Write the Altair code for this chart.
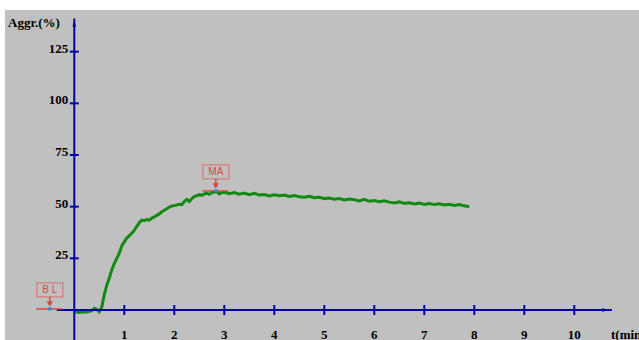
import altair as alt
import pandas as pd

# --- aggregation trace (time in minutes, aggregation in %) ---
time_min = [
    0.0, 0.05, 0.1, 0.15, 0.2, 0.25, 0.3, 0.35, 0.4, 0.45,
    0.5, 0.55, 0.6, 0.65, 0.7, 0.75, 0.8, 0.85, 0.9, 0.95,
    1.0, 1.05, 1.1, 1.15, 1.2, 1.25, 1.3, 1.35, 1.4, 1.45,
    1.5, 1.55, 1.6, 1.65, 1.7, 1.75, 1.8, 1.85, 1.9, 1.95,
    2.0, 2.05, 2.1, 2.15, 2.2, 2.25, 2.3, 2.35, 2.4, 2.45,
    2.5, 2.55, 2.6, 2.65, 2.7, 2.75, 2.8, 2.85, 2.9, 2.95,
    3.0, 3.1, 3.2, 3.3, 3.4, 3.5, 3.6, 3.7, 3.8, 3.9,
    4.0, 4.1, 4.2, 4.3, 4.4, 4.5, 4.6, 4.7, 4.8, 4.9,
    5.0, 5.1, 5.2, 5.3, 5.4, 5.5, 5.6, 5.7, 5.8, 5.9,
    6.0, 6.1, 6.2, 6.3, 6.4, 6.5, 6.6, 6.7, 6.8, 6.9,
    7.0, 7.1, 7.2, 7.3, 7.4, 7.5, 7.6, 7.7, 7.8, 7.9,
]
aggregation = [
    -0.5, -1.0, -1.2, -1.0, -0.8, -1.0, -0.6, -0.3, 0.8, 0.2,
    -0.8, 1.5, 7.5, 12.0, 15.5, 19.5, 22.5, 25.0, 27.5, 31.0,
    33.0, 34.8, 36.0, 37.2, 38.5, 40.5, 42.3, 43.5, 43.2, 43.8,
    43.5, 44.5, 45.0, 45.8, 46.5, 47.5, 48.3, 49.0, 49.8, 50.3,
    50.5, 50.8, 51.2, 51.0, 52.5, 53.5, 52.5, 53.8, 55.0, 55.3,
    55.8, 55.5, 56.2, 56.5, 56.0, 56.8, 57.0, 57.3, 56.2, 56.8,
    57.0, 56.3, 56.8, 56.0, 56.6, 55.8, 56.5, 55.6, 55.9, 55.2,
    55.8, 55.3, 55.6, 54.9, 55.4, 54.8, 54.6, 55.0, 54.3, 54.6,
    53.9, 54.2, 53.6, 53.9, 53.2, 53.7, 53.4, 52.8, 53.5, 52.6,
    53.0, 52.4, 52.8, 52.2, 51.8, 52.3, 51.6, 51.9, 51.3, 51.7,
    51.1, 51.5, 51.0, 51.4, 50.8, 51.2, 50.6, 51.0, 50.4, 50.0,
]

# --- axis ticks ---
x_ticks = [1, 2, 3, 4, 5, 6, 7, 8, 9, 10]
y_ticks = [25, 50, 75, 100, 125]

# --- markers: baseline (BL) and maximum aggregation (MA) ---
marker_names = ["B L", "MA"]
marker_time = [-0.49, 2.83]
marker_value = [0.5, 57.6]

# --- styling ---
W, H = 639, 340
X_DOMAIN = [-1.486, 11.294]
Y_DOMAIN = [-14.52, 150.0]
AXIS_BLUE = "#0000a8"
TRACE_GREEN = "#128a12"
MARK_RED = "#d04848"
BOX_RED = "#d67a7a"
PANEL_GREY = "#c0c0c0"
SERIF = "Liberation Serif"

xs = alt.Scale(domain=X_DOMAIN, nice=False, zero=False)
ys = alt.Scale(domain=Y_DOMAIN, nice=False, zero=False)

one = pd.DataFrame({"k": [0]})
trace = pd.DataFrame({"t": time_min, "v": aggregation})
xt = pd.DataFrame({"t": x_ticks, "v": [0] * len(x_ticks), "lab": [str(x) for x in x_ticks]})
yt = pd.DataFrame({"t": [0] * len(y_ticks), "v": y_ticks, "lab": [str(y) for y in y_ticks]})
marks = pd.DataFrame({"name": marker_names, "t": marker_time, "v": marker_value})

X = lambda f="t": alt.X(f"{f}:Q", scale=xs, axis=None)
Y = lambda f="v": alt.Y(f"{f}:Q", scale=ys, axis=None)

panel = alt.Chart(one).mark_rect(color=PANEL_GREY).encode(
    x=alt.value(5), x2=alt.value(W), y=alt.value(10), y2=alt.value(H)
)

# axes drawn as crossing lines with arrowheads
y_axis = alt.Chart(pd.DataFrame({"t": [0], "v0": [Y_DOMAIN[0]], "v1": [141.0]})).mark_rule(
    color=AXIS_BLUE, strokeWidth=2
).encode(x=X(), y=Y("v0"), y2="v1:Q")
x_axis = alt.Chart(pd.DataFrame({"t0": [-0.35], "t1": [10.75], "v": [0]})).mark_rule(
    color=AXIS_BLUE, strokeWidth=2
).encode(x=X("t0"), x2="t1:Q", y=Y())

y_head = alt.Chart(pd.DataFrame({"t": [0], "v": [138.6]})).mark_point(
    shape="M0,-0.5L0.28,0.5L-0.28,0.5Z", size=169, filled=True, opacity=1, color=AXIS_BLUE
).encode(x=X(), y=Y())
x_head = alt.Chart(pd.DataFrame({"t": [10.64], "v": [0]})).mark_point(
    shape="M0.5,0L-0.5,-0.2L-0.5,0.2Z", size=289, filled=True, opacity=1, color=AXIS_BLUE
).encode(x=X(), y=Y())

x_tick_marks = alt.Chart(xt).mark_tick(
    orient="vertical", size=10, thickness=2, color=AXIS_BLUE, opacity=1
).encode(x=X(), y=Y())
y_tick_marks = alt.Chart(yt).mark_tick(
    orient="horizontal", size=9, thickness=2, color=AXIS_BLUE, opacity=1
).encode(x=X(), y=Y())

x_labels = alt.Chart(xt).mark_text(
    font=SERIF, fontSize=13, fontWeight="bold", color="black",
    align="center", baseline="alphabetic", dy=29
).encode(x=X(), y=Y(), text="lab:N")
y_labels = alt.Chart(yt).mark_text(
    font=SERIF, fontSize=13, fontWeight="bold", color="black",
    align="right", baseline="alphabetic", dx=-6, dy=1
).encode(x=X(), y=Y(), text="lab:N")

y_title = alt.Chart(one).mark_text(
    text="Aggr.(%)", font=SERIF, fontSize=13, fontWeight="bold", color="black",
    align="left", baseline="alphabetic"
).encode(x=alt.value(8), y=alt.value(27))
x_title = alt.Chart(one).mark_text(
    text="t(min)", font=SERIF, fontSize=13, fontWeight="bold", color="black",
    align="left", baseline="alphabetic"
).encode(x=alt.value(611), y=alt.value(339))

curve = alt.Chart(trace).mark_line(color=TRACE_GREEN, strokeWidth=3).encode(x=X(), y=Y())

# marker boxes, arrows and base lines, placed relative to each marked point
mk = alt.Chart(marks).transform_calculate(
    bx0="datum.t - 0.26", bx1="datum.t + 0.26",
    by0="datum.v + 5.8", by1="datum.v + 12.6", ty="datum.v + 9.2",
    ay="datum.v + 2.4", lx0="datum.t - 0.27", lx1="datum.t + 0.25",
)
box = mk.mark_rect(fill=None, stroke=BOX_RED, strokeWidth=1.2).encode(
    x=X("bx0"), x2="bx1:Q", y=Y("by0"), y2="by1:Q"
)
box_text = mk.mark_text(font="Liberation Sans", fontSize=10, color=MARK_RED).encode(
    x=X(), y=Y("ty"), text="name:N"
)
arrow = mk.mark_rule(color=MARK_RED, strokeWidth=1.5).encode(x=X(), y=Y("by0"), y2="ay:Q")
arrow_tip = mk.mark_point(
    shape="triangle-down", size=40, filled=True, opacity=1, color=MARK_RED
).encode(x=X(), y=Y("ay"))
base_line = mk.mark_rule(color=MARK_RED, strokeWidth=1.5).encode(
    x=X("lx0"), x2="lx1:Q", y=Y()
)
dot = mk.mark_square(size=10, color="#2c8ad6", opacity=1).encode(x=X(), y=Y())

chart = alt.layer(
    panel, curve, y_axis, x_axis, y_head, x_head, x_tick_marks, y_tick_marks,
    x_labels, y_labels, y_title, x_title,
    base_line, box, box_text, arrow, arrow_tip, dot,
).properties(
    width=W, height=H, padding=0, autosize=alt.AutoSizeParams(type="none"),
    background="white",
).configure_view(stroke=None)

chart.save("out.html", embed_options={"renderer": "svg", "actions": False})
